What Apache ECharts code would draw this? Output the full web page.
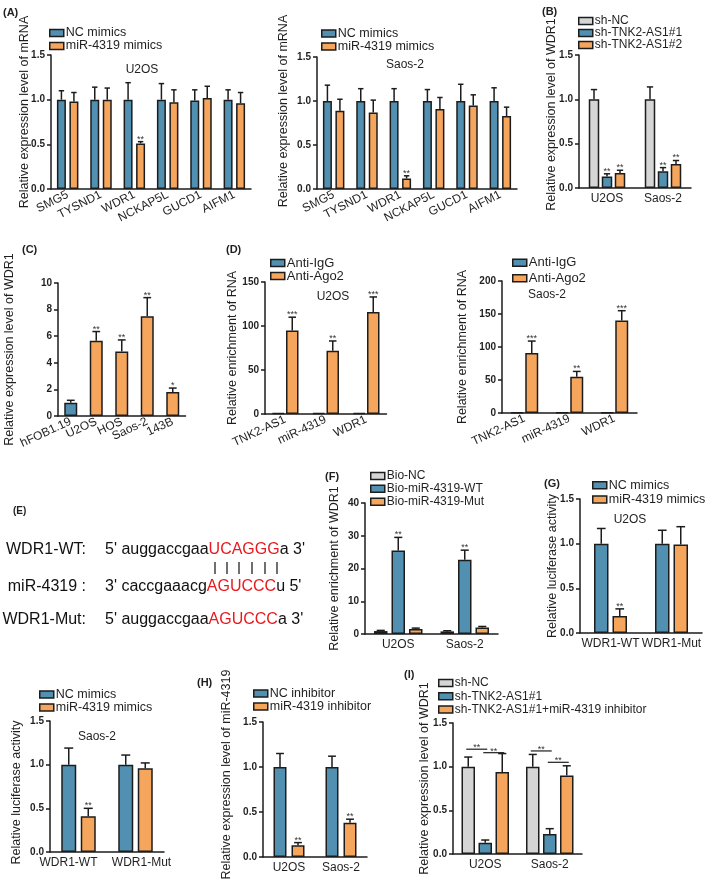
<!DOCTYPE html>
<html><head><meta charset="utf-8">
<script src="https://cdn.jsdelivr.net/npm/echarts@6.0.0/dist/echarts.min.js"></script>
<style>html,body{margin:0;padding:0;background:#fff}#c{width:709px;height:880px}</style>
</head><body><div id="c"></div>
<script>
// ---------------- DATA ----------------
// (A) candidate genes, U2OS
const geneCats = ['SMG5','TYSND1','WDR1','NCKAP5L','GUCD1','AIFM1'];
const aU2OS_NC = [1.00,1.00,1.00,1.00,0.99,1.00];
const aU2OS_NC_sd = [0.10,0.14,0.19,0.18,0.12,0.11];
const aU2OS_miR = [0.98,1.00,0.51,0.97,1.02,0.96];
const aU2OS_miR_sd = [0.10,0.13,0.02,0.14,0.13,0.12];
const aU2OS_sig = ['','','**','','',''];
// (A) Saos-2
const aSaos_NC = [1.00,1.00,1.00,1.00,1.00,1.00];
const aSaos_NC_sd = [0.18,0.14,0.14,0.13,0.19,0.15];
const aSaos_miR = [0.89,0.87,0.12,0.91,0.95,0.83];
const aSaos_miR_sd = [0.13,0.14,0.03,0.13,0.12,0.10];
const aSaos_sig = ['','','**','','',''];
// (B)
const cellCats = ['U2OS','Saos-2'];
const bShNC = [1.00,1.00], bShNC_sd = [0.11,0.14];
const bSh1 = [0.13,0.19], bSh1_sd = [0.03,0.04];
const bSh2 = [0.17,0.27], bSh2_sd = [0.03,0.04];
const bSig = ['**','**'];
// (C)
const cCats = ['hFOB1.19','U2OS','HOS','Saos-2','143B'];
const cVals = [1.0,5.65,4.85,7.5,1.8];
const cSd = [0.18,0.7,0.87,1.4,0.3];
const cSig = ['','**','**','**','*'];
// (D)
const dCats = ['TNK2-AS1','miR-4319','WDR1'];
const dU2OS_IgG = [1,1,1], dU2OS_IgG_sd = [0,0,0];
const dU2OS_Ago2 = [95,72,116], dU2OS_Ago2_sd = [15,11,17];
const dSaos_IgG = [1,1,1], dSaos_IgG_sd = [0,0,0];
const dSaos_Ago2 = [91,55,140], dSaos_Ago2_sd = [18,8,15];
const dSig = ['***','**','***'];
// (F)
const fNC = [0.9,0.8], fNC_sd = [0.2,0.2];
const fWT = [25.5,22.7], fWT_sd = [4.0,2.9];
const fMut = [1.5,2.0], fMut_sd = [0.3,0.3];
const fSig = ['**','**'];
// (G) luciferase
const lucCats = ['WDR1-WT','WDR1-Mut'];
const gU2OS_NC = [1.00,1.00], gU2OS_NC_sd = [0.17,0.15];
const gU2OS_miR = [0.19,0.99], gU2OS_miR_sd = [0.08,0.20];
const gSaos_NC = [1.00,1.00], gSaos_NC_sd = [0.19,0.11];
const gSaos_miR = [0.41,0.96], gSaos_miR_sd = [0.09,0.06];
const gSig = ['**',''];
// (H)
const hNC = [1.00,1.00], hNC_sd = [0.15,0.12];
const hInh = [0.13,0.38], hInh_sd = [0.03,0.04];
const hSig = ['**','**'];
// (I)
const iShNC = [1.00,1.00], iShNC_sd = [0.11,0.14];
const iSh1 = [0.13,0.23], iSh1_sd = [0.03,0.06];
const iSh1Inh = [0.94,0.90], iSh1Inh_sd = [0.21,0.11];
const iBrackets = [[0,0,1,1.20],[0,1,2,1.16],[1,0,1,1.18],[1,1,2,1.05]];
const iBracketSig = ['**','**','**','**'];

// ---------------- STYLE ----------------
const FONT = '"Liberation Sans", Arial, Helvetica, sans-serif';
const BLUE = '#5190b0', ORANGE = '#f6a55c', GREY = '#d5d5d5', EDGE = '#1c1c1c', RED = '#e8191f', TXT = '#1f1f1f';

const option = {animation:false, backgroundColor:'#fff', textStyle:{fontFamily:FONT},
  grid:[], xAxis:[], yAxis:[], series:[], legend:[], graphic:[]};

function errRenderer(n, j, w, g, sig) {
  return function (params, api) {
    const i = api.value(0), v = api.value(1), e = api.value(2);
    const p0 = api.coord([i, v]);
    const p1 = api.coord([i, v + e]);
    const x = p0[0] + (j - (n - 1) / 2) * (w + g);
    const cap = Math.max(5, w * 0.6);
    const ch = [];
    if (e > 0) {
      ch.push({type:'line', shape:{x1:x, y1:p0[1], x2:x, y2:p1[1]}, style:{stroke:EDGE, lineWidth:1.5}});
      ch.push({type:'line', shape:{x1:x - cap/2, y1:p1[1], x2:x + cap/2, y2:p1[1]}, style:{stroke:EDGE, lineWidth:1.5}});
    }
    const s = sig && sig[params.dataIndex];
    if (s) ch.push({type:'text', style:{text:s, x:x, y:p1[1] + 2, align:'center', verticalAlign:'bottom', fontSize:9, fill:'#333', fontFamily:FONT}});
    return {type:'group', children:ch};
  };
}

function addPanel(p) {
  const gi = option.grid.length;
  option.grid.push({left:p.box[0], top:p.box[1], width:p.box[2], height:p.box[3], containLabel:false, outerBoundsMode:'none'});
  const catData = p.cats.map(function (c, k) {
    return p.labelPad ? {value:c, textStyle:{padding:p.labelPad[k]}} : c;
  });
  option.xAxis.push({type:'category', gridIndex:gi, data:catData,
    axisLine:{lineStyle:{color:EDGE, width:1.5}}, axisTick:{show:false},
    axisLabel:{interval:0, rotate:p.rotate || 0, fontSize:12, color:TXT, fontFamily:FONT, margin:p.lm || 5, hideOverlap:false}});
  const sh = p.shift || 0;
  option.yAxis.push({type:'value', gridIndex:gi, min:0, max:p.yMax, interval:p.yInt,
    splitLine:{show:false},
    axisLine:{show:true, lineStyle:{color:EDGE, width:1.5}},
    axisTick:{show:true, length:4, lineStyle:{color:EDGE, width:1.5}},
    axisLabel:{formatter:p.fmt, fontSize:10, fontWeight:'bold', color:TXT, fontFamily:FONT, margin:6},
    name:p.yName, nameLocation:'middle', nameRotate:90, nameGap:p.nameGap, nameMoveOverlap:false,
    nameTextStyle:{fontSize:12.5, color:TXT, fontFamily:FONT, padding: sh >= 0 ? [0,0,0,2*sh] : [0,-2*sh,0,0]}});
  const n = p.series.length;
  p.series.forEach(function (s, j) {
    option.series.push({type:'bar', name:s.name, xAxisIndex:gi, yAxisIndex:gi, data:s.values,
      barWidth:p.barW, barGap:(p.gap / p.barW * 100).toFixed(1) + '%',
      itemStyle:{color:s.color, borderColor:EDGE, borderWidth:1.5}, emphasis:{disabled:true}, z:2});
    option.series.push({type:'custom', name:'_err' + gi + '_' + j, xAxisIndex:gi, yAxisIndex:gi,
      data:s.values.map(function (v, i) { return [i, v, s.sd[i]]; }), encode:{x:0, y:1},
      renderItem:errRenderer(n, j, p.barW, p.gap, s.sig), z:3, silent:true});
  });
  if (p.legend) {
    const L = p.legend;
    option.legend.push({left:L.left, top:L.top, orient:'vertical', padding:0, itemGap:0,
      itemWidth:14, itemHeight:7, icon:'rect', selectedMode:false,
      data:p.series.map(function (s) { return s.name; }),
      itemStyle:{borderColor:EDGE, borderWidth:1.5},
      textStyle:{fontSize:L.fs, lineHeight:L.lh, color:TXT, fontFamily:FONT, padding:[0,0,0,-3]}});
  }
  if (p.title) option.graphic.push({type:'text', silent:true,
    style:{text:p.title[0], x:p.title[1], y:p.title[2], align:'center', verticalAlign:'middle', fontSize:12, fill:TXT, fontFamily:FONT}});
  return gi;
}
const f1 = function (v) { return v.toFixed(1); };

// (A) U2OS
addPanel({box:[51,55,200,134], cats:geneCats, rotate:27, yMax:1.5, yInt:0.5, fmt:f1,
  yName:'Relative expression level of mRNA', nameGap:20, shift:10, barW:9, gap:3.5,
  series:[{name:'NC mimics', values:aU2OS_NC, sd:aU2OS_NC_sd, color:BLUE},
          {name:'miR-4319 mimics', values:aU2OS_miR, sd:aU2OS_miR_sd, sig:aU2OS_sig, color:ORANGE}],
  legend:{left:49, top:26.5, fs:12.5, lh:13}, title:['U2OS',142,70]});
// (A) Saos-2
addPanel({box:[317,57,200,132], cats:geneCats, rotate:27, yMax:1.5, yInt:0.5, fmt:f1,
  yName:'Relative expression level of mRNA', nameGap:27, shift:12, barW:9, gap:3.5,
  series:[{name:'NC mimics', values:aSaos_NC, sd:aSaos_NC_sd, color:BLUE},
          {name:'miR-4319 mimics', values:aSaos_miR, sd:aSaos_miR_sd, sig:aSaos_sig, color:ORANGE}],
  legend:{left:321, top:27, fs:12.5, lh:13}, title:['Saos-2',405,65]});
// (B)
addPanel({box:[579,55,112,133], cats:cellCats, yMax:1.5, yInt:0.5, fmt:f1,
  yName:'Relative expression level of WDR1', nameGap:21, shift:7, barW:10.5, gap:2.5,
  series:[{name:'sh-NC', values:bShNC, sd:bShNC_sd, color:GREY},
          {name:'sh-TNK2-AS1#1', values:bSh1, sd:bSh1_sd, sig:bSig, color:BLUE},
          {name:'sh-TNK2-AS1#2', values:bSh2, sd:bSh2_sd, sig:bSig, color:ORANGE}],
  legend:{left:578, top:15, fs:12, lh:12}});
// (C)
addPanel({box:[58,283,127.5,133], cats:cCats, rotate:25, yMax:10, yInt:2,
  yName:'Relative expression level of WDR1', nameGap:42, shift:0, barW:13, gap:0,
  series:[{name:'WDR1 level', values:cVals, sd:cSd, sig:cSig,
           color:function (pr) { return pr.dataIndex === 0 ? BLUE : ORANGE; }}]});
// (D) U2OS
addPanel({box:[265,282,121.5,132], cats:dCats, rotate:25, yMax:150, yInt:50,
  yName:'Relative enrichment of RNA', nameGap:26, shift:0, barW:12.5, gap:1.5,
  series:[{name:'Anti-IgG', values:dU2OS_IgG, sd:dU2OS_IgG_sd, color:BLUE},
          {name:'Anti-Ago2', values:dU2OS_Ago2, sd:dU2OS_Ago2_sd, sig:dSig, color:ORANGE}],
  legend:{left:270, top:256.5, fs:13, lh:12}, title:['U2OS',333,297]});
// (D) Saos-2
addPanel({box:[502,281,135,132], cats:dCats, rotate:25, yMax:200, yInt:50,
  yName:'Relative enrichment of RNA', nameGap:33, shift:0, barW:13, gap:1.5,
  series:[{name:'Anti-IgG', values:dSaos_IgG, sd:dSaos_IgG_sd, color:BLUE},
          {name:'Anti-Ago2', values:dSaos_Ago2, sd:dSaos_Ago2_sd, sig:dSig, color:ORANGE}],
  legend:{left:512, top:255, fs:13, lh:15.5}, title:['Saos-2',547,295]});
// (F)
addPanel({box:[365,503,133,131], cats:cellCats, yMax:40, yInt:10,
  yName:'Relative enrichment of WDR1', nameGap:24, shift:0, barW:13.5, gap:4,
  series:[{name:'Bio-NC', values:fNC, sd:fNC_sd, color:GREY},
          {name:'Bio-miR-4319-WT', values:fWT, sd:fWT_sd, sig:fSig, color:BLUE},
          {name:'Bio-miR-4319-Mut', values:fMut, sd:fMut_sd, color:ORANGE}],
  legend:{left:370, top:469.5, fs:12, lh:12.9}});
// (G) U2OS
addPanel({box:[580,499,122,134], cats:lucCats, yMax:1.5, yInt:0.5, fmt:f1,
  yName:'Relative luciferase activity', nameGap:21, shift:0, barW:14.5, gap:4,
  series:[{name:'NC mimics', values:gU2OS_NC, sd:gU2OS_NC_sd, color:BLUE},
          {name:'miR-4319 mimics', values:gU2OS_miR, sd:gU2OS_miR_sd, sig:gSig, color:ORANGE}],
  legend:{left:592, top:478, fs:12.5, lh:14.3}, title:['U2OS',630,520]});
// (G) Saos-2
addPanel({box:[50,721,114,131], cats:lucCats, yMax:1.5, yInt:0.5, fmt:f1,
  labelPad:[[0,20,0,0],[0,0,0,12]],
  yName:'Relative luciferase activity', nameGap:27, shift:-6, barW:15, gap:4.5,
  series:[{name:'NC mimics', values:gSaos_NC, sd:gSaos_NC_sd, color:BLUE},
          {name:'miR-4319 mimics', values:gSaos_miR, sd:gSaos_miR_sd, sig:gSig, color:ORANGE}],
  legend:{left:39, top:688, fs:12.5, lh:13}, title:['Saos-2',97,737]});
// (H)
addPanel({box:[263,722,104,135], cats:cellCats, yMax:1.5, yInt:0.5, fmt:f1,
  yName:'Relative expression level of miR-4319', nameGap:30, shift:15, barW:13, gap:5,
  series:[{name:'NC inhibitor', values:hNC, sd:hNC_sd, color:BLUE},
          {name:'miR-4319 inhibitor', values:hInh, sd:hInh_sd, sig:hSig, color:ORANGE}],
  legend:{left:253, top:687, fs:12.5, lh:12}});
// (I)
const giI = addPanel({box:[453,723,129,131], cats:cellCats, yMax:1.5, yInt:0.5, fmt:f1,
  yName:'Relative expression level of WDR1', nameGap:22, shift:10, barW:13.5, gap:3.5,
  series:[{name:'sh-NC', values:iShNC, sd:iShNC_sd, color:GREY},
          {name:'sh-TNK2-AS1#1', values:iSh1, sd:iSh1_sd, color:BLUE},
          {name:'sh-TNK2-AS1#1+miR-4319 inhibitor', values:iSh1Inh, sd:iSh1Inh_sd, color:ORANGE}],
  legend:{left:438, top:676.5, fs:12, lh:13.2}});
option.series.push({type:'custom', name:'_brackets', xAxisIndex:giI, yAxisIndex:giI, data:iBrackets,
  encode:{x:0, y:3}, z:4, silent:true,
  renderItem:function (params, api) {
    const c = api.value(0), a = api.value(1), b = api.value(2), y = api.value(3);
    const p = api.coord([c, y]);
    const step = 13.5 + 3.5;
    const xa = p[0] + (a - 1) * step - 2, xb = p[0] + (b - 1) * step + 2;
    return {type:'group', children:[
      {type:'line', shape:{x1:xa, y1:p[1], x2:xb, y2:p[1]}, style:{stroke:EDGE, lineWidth:1.2}},
      {type:'text', style:{text:iBracketSig[params.dataIndex], x:(xa + xb) / 2, y:p[1] + 3, align:'center', verticalAlign:'bottom', fontSize:9, fill:'#333', fontFamily:FONT}}
    ]};
  }});

// panel letters
[['(A)',3,7],['(B)',542,6],['(C)',22,244],['(D)',226,244],['(F)',325,471],['(G)',544,478],['(H)',197,677],['(I)',404,669]]
  .forEach(function (t) {
    option.graphic.push({type:'text', silent:true, style:{text:t[0], x:t[1], y:t[2], fontSize:11, fontWeight:'bold', fill:TXT, fontFamily:FONT}});
  });
option.graphic.push({type:'text', silent:true, style:{text:'(E)', x:13, y:506, fontSize:10, fontWeight:'bold', fill:TXT, fontFamily:FONT}});

// panel E: sequence alignment
const eRows = [
  ['WDR1-WT:', "5' auggaccgaa", 'UCAGGG', "a 3'", 550],
  ['miR-4319 :', "3' caccgaaacg", 'AGUCCC', "u 5'", 587],
  ['WDR1-Mut:', "5' auggaccgaa", 'AGUCCC', "a 3'", 620]
];
eRows.forEach(function (r) {
  option.graphic.push({type:'text', silent:true, style:{text:r[0], x:86, y:r[4], align:'right', verticalAlign:'middle', fontSize:16, fill:'#111', fontFamily:FONT}});
  option.graphic.push({type:'text', silent:true, style:{text:r[1] + '{r|' + r[2] + '}' + r[3], x:105, y:r[4], align:'left', verticalAlign:'middle',
    fontSize:16, fill:'#111', fontFamily:FONT, rich:{r:{fill:RED, fontSize:16, fontFamily:FONT}}}});
});
[215,227,239,252,265,277].forEach(function (x) {
  option.graphic.push({type:'line', silent:true, shape:{x1:x, y1:562, x2:x, y2:574}, style:{stroke:'#222', lineWidth:1.3}});
});

const chart = echarts.init(document.getElementById('c'), null, {renderer:'canvas'});
chart.setOption(option);
</script></body></html>
